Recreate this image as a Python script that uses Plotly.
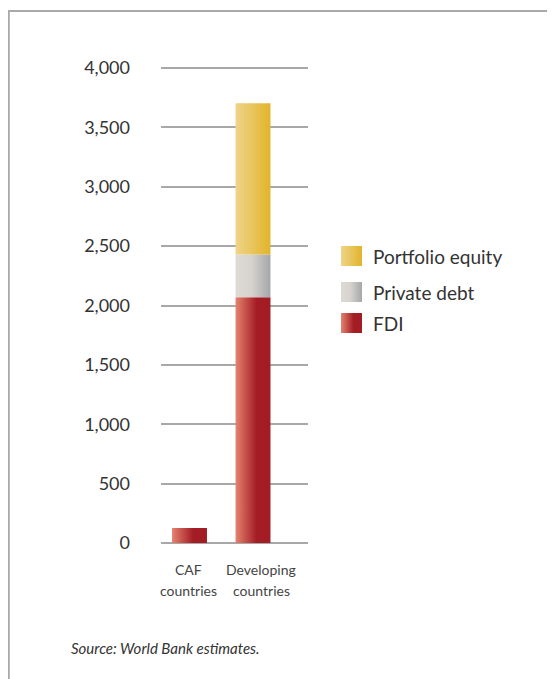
import plotly.graph_objects as go

categories = ["CAF<br>countries", "Developing<br>countries"]
series_names = ["FDI", "Private debt", "Portfolio equity"]
fdi = [127, 2070]
private_debt = [0, 360]
portfolio_equity = [4, 1273]
y_ticks = [0, 500, 1000, 1500, 2000, 2500, 3000, 3500, 4000]

series_values = [fdi, private_debt, portfolio_equity]
colorscales = [
    [[0, "#e4836f"], [0.6, "#a41d25"], [1, "#a21c24"]],
    [[0, "#dedbd6"], [0.45, "#d6d3ce"], [1, "#a6a7a9"]],
    [[0, "#efd488"], [1, "#e2b42b"]],
]

OFF = 8                      # default page body margin
W, H = 555, 679              # figure size
L, R, T, B = 161, 308, 68, 543   # gridline span / y=4000 / y=0 in screen pixels
PAD = 3                      # extra px so the end gridlines are not clipped
BAR_W = 0.55
FONT = "Lato, sans-serif"
label_shift_px = [-1.5, 8]
legend_rows_px = [256, 292, 323]

Y_MAX = y_ticks[-1]
unit_px = (B - T) / Y_MAX
y_pad = PAD / unit_px


def f(p):  # screen px -> figure px
    return p - OFF


fig = go.Figure()

# stacked bars as gradient-filled polygons on the data axes
bases = [0] * len(categories)
for name, vals, cs in zip(series_names, series_values, colorscales):
    for i, v in enumerate(vals):
        if v <= 0:
            continue
        x0, x1 = i - BAR_W / 2, i + BAR_W / 2
        y0, y1 = bases[i], bases[i] + v
        fig.add_trace(go.Scatter(
            x=[x0, x1, x1, x0, x0], y=[y0, y0, y1, y1, y0],
            mode="lines", line=dict(width=0), fill="toself",
            fillgradient=dict(type="horizontal", colorscale=cs),
            name=name, showlegend=False, hoverinfo="skip",
            xaxis="x", yaxis="y",
        ))
        bases[i] += v

# category labels (two lines each)
for i, cat in enumerate(categories):
    for j, line in enumerate(cat.split("<br>")):
        fig.add_annotation(xref="x", yref="y2", x=i, y=f(569 + 21 * j), text=line,
                           xshift=label_shift_px[i], showarrow=False,
                           xanchor="center", yanchor="middle",
                           font=dict(size=14, color="#444444", family=FONT))

# legend swatches on a full-figure pixel overlay
leg_order = [2, 1, 0]
for cy, idx in zip(legend_rows_px, leg_order):
    sx0, sx1 = f(341), f(362)
    sy0, sy1 = f(cy - 10), f(cy + 10)
    fig.add_trace(go.Scatter(
        x=[sx0, sx1, sx1, sx0, sx0], y=[sy0, sy0, sy1, sy1, sy0],
        mode="lines", line=dict(width=0), fill="toself",
        fillgradient=dict(type="horizontal", colorscale=colorscales[idx]),
        showlegend=False, hoverinfo="skip", xaxis="x2", yaxis="y2",
    ))
    fig.add_annotation(xref="x2", yref="y2", x=f(371), y=f(cy), text=series_names[idx],
                       showarrow=False, xanchor="left", yanchor="middle",
                       font=dict(size=19, color="#333333", family=FONT))

fig.add_annotation(xref="x2", yref="y2", x=f(69), y=f(648), text="<i>Source: World Bank estimates.</i>",
                   showarrow=False, xanchor="left", yanchor="middle",
                   font=dict(size=15, color="#333333", family=FONT))

# frame (left and top rules)
fig.add_shape(type="line", xref="x2", yref="y2", x0=0.8, x1=0.8, y0=f(11), y1=H + 5,
              line=dict(color="#a9a9a9", width=2))
fig.add_shape(type="line", xref="x2", yref="y2", x0=0, x1=W + 5, y0=f(11), y1=f(11),
              line=dict(color="#a9a9a9", width=2))

fig.update_layout(
    width=W, height=H,
    margin=dict(l=0, r=0, t=0, b=0, pad=0, autoexpand=False),
    plot_bgcolor="rgba(0,0,0,0)", paper_bgcolor="white",
    font=dict(family=FONT, color="#333333"),
    showlegend=False,
    xaxis=dict(domain=[f(L) / W, f(R) / W], range=[-0.449, 1.866], automargin=False,
               showticklabels=False, showgrid=False, zeroline=False, showline=False, ticks=""),
    yaxis=dict(domain=[1 - f(B + PAD) / H, 1 - f(T - PAD) / H], range=[-y_pad, Y_MAX + y_pad],
               tickvals=y_ticks, automargin=False, tickformat=",", showgrid=True,
               gridcolor="#a8a8a8", gridwidth=1.6, zeroline=False, showline=False, ticks="",
               tickfont=dict(size=18, color="#333333"), ticklabelstandoff=30),
    xaxis2=dict(domain=[0, 1], range=[0, W], visible=False, fixedrange=True, automargin=False),
    yaxis2=dict(domain=[0, 1], range=[H, 0], visible=False, fixedrange=True, automargin=False),
)

fig.write_html("out.html")
